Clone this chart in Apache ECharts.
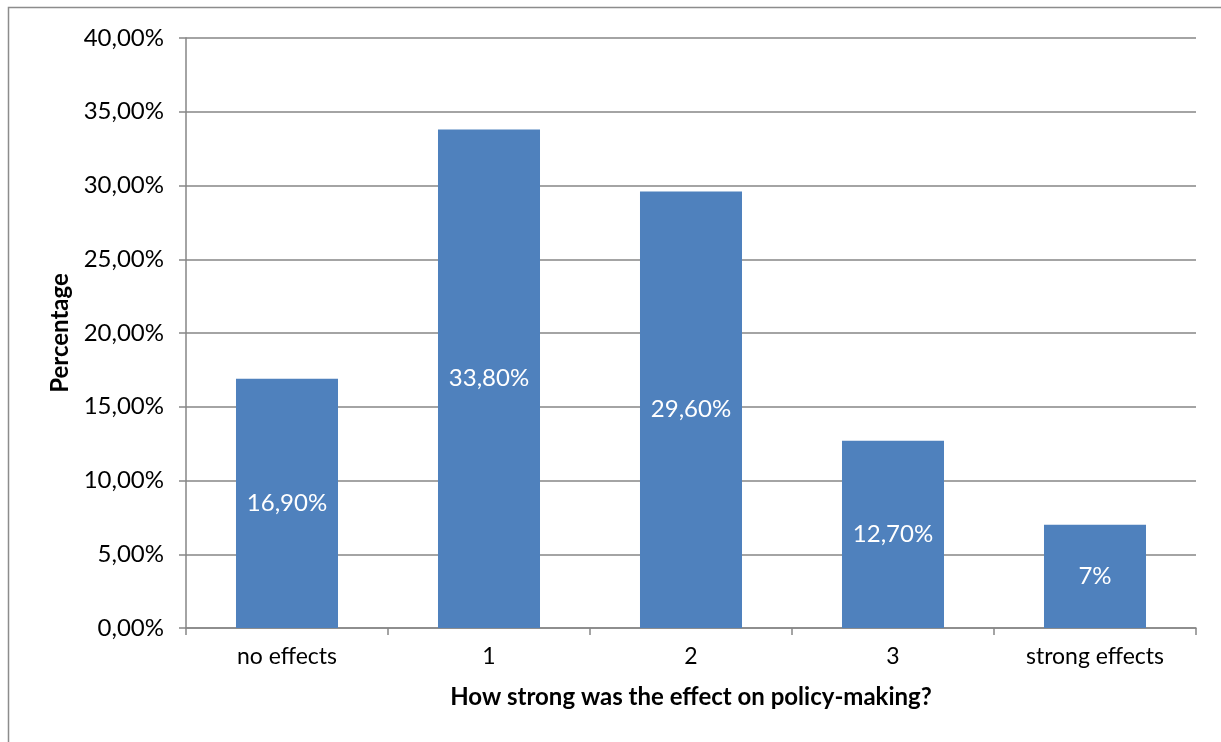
<!DOCTYPE html>
<html>
<head>
<meta charset="utf-8">
<script src="https://cdn.jsdelivr.net/npm/echarts@6/dist/echarts.min.js"></script>
<style>
  html, body { margin: 0; padding: 0; background: #fff; }
  #chart { width: 1221px; height: 742px; }
</style>
</head>
<body>
<div id="chart"></div>
<script>
// Survey answers: how strong was the effect on policy-making
const categories = ['no effects', '1', '2', '3', 'strong effects'];
const percentages = [16.9, 33.8, 29.6, 12.7, 7];
const valueLabels = ['16,90%', '33,80%', '29,60%', '12,70%', '7%'];
const yTicks = [0, 5, 10, 15, 20, 25, 30, 35, 40];

const FONT = 'Lato, "Open Sans", sans-serif';
const AXIS_GRAY = '#868686';

const chart = echarts.init(document.getElementById('chart'), null, { renderer: 'canvas' });

chart.setOption({
  animation: false,
  backgroundColor: '#ffffff',
  graphic: [{
    type: 'rect',
    shape: { x: 8.5, y: 7.5, width: 1300, height: 800 },
    style: { fill: 'none', stroke: '#8c8c8c', lineWidth: 1.5 },
    silent: true
  }],
  grid: { left: 186, right: 25, top: 38, bottom: 114, containLabel: false },
  xAxis: {
    type: 'category',
    data: categories,
    name: 'How strong was the effect on policy-making?',
    nameLocation: 'middle',
    nameGap: 57,
    nameTextStyle: { fontFamily: FONT, fontSize: 24, fontWeight: 'bold', color: '#000' },
    axisLine: { show: true, lineStyle: { color: AXIS_GRAY, width: 1.5 } },
    axisTick: { show: true, alignWithLabel: false, length: 7, lineStyle: { color: AXIS_GRAY, width: 1.5 } },
    axisLabel: { fontFamily: FONT, fontSize: 23, color: '#000', margin: 17 },
    splitLine: { show: false }
  },
  yAxis: {
    type: 'value',
    min: yTicks[0],
    max: yTicks[yTicks.length - 1],
    interval: 5,
    name: 'Percentage',
    nameLocation: 'middle',
    nameGap: 112,
    nameRotate: 90,
    nameTextStyle: { fontFamily: FONT, fontSize: 24, fontWeight: 'bold', color: '#000' },
    axisLine: { show: true, lineStyle: { color: AXIS_GRAY, width: 1.5 } },
    axisTick: { show: true, length: 7, lineStyle: { color: AXIS_GRAY, width: 1.5 } },
    axisLabel: {
      fontFamily: FONT, fontSize: 24, color: '#000', margin: 22,
      formatter: v => v.toFixed(2).replace('.', ',') + '%'
    },
    splitLine: { show: true, lineStyle: { color: AXIS_GRAY, width: 1.5 } }
  },
  series: [{
    type: 'bar',
    data: percentages,
    barWidth: '50.5%',
    itemStyle: { color: '#4F81BD' },
    label: {
      show: true,
      position: 'inside',
      fontFamily: FONT,
      fontSize: 24,
      color: '#ffffff',
      formatter: p => valueLabels[p.dataIndex]
    }
  }]
});
</script>
</body>
</html>
